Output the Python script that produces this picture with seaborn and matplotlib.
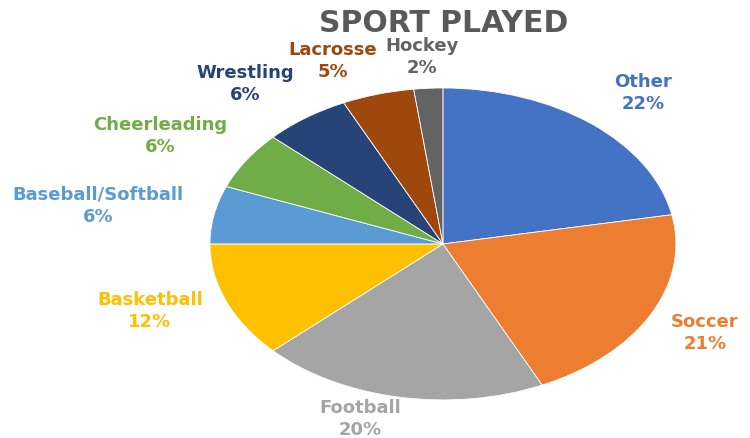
import matplotlib
matplotlib.use("Agg")
import matplotlib.pyplot as plt
import seaborn as sns

# Data (percent of respondents)
sports = ["Other", "Soccer", "Football", "Basketball", "Baseball/Softball",
          "Cheerleading", "Wrestling", "Lacrosse", "Hockey"]
shares = [22, 21, 20, 12, 6, 6, 6, 5, 2]

# Office-style palette, one colour per slice
colors = ["#4472C4", "#ED7D31", "#A5A5A5", "#FFC000", "#5B9BD5",
          "#70AD47", "#264478", "#9E480E", "#636363"]

# Label block centres (data units, pie radius = 1)
label_pos = [(0.858, 0.968), (1.124, -0.571), (-0.356, -1.122),
             (-1.258, -0.429), (-1.481, 0.244), (-1.215, 0.692),
             (-0.850, 1.026), (-0.472, 1.173), (-0.090, 1.199)]

sns.set_theme(style="white")
plt.rcParams['font.family'] = ['DejaVu Sans']

fig = plt.figure(figsize=(7.5, 4.38), dpi=100)
ax = fig.add_axes([0, 0, 1, 1])

ax.pie(shares, colors=colors, startangle=90, counterclock=False,
       wedgeprops=dict(edgecolor="white", linewidth=0.6))

# stretched (elliptical) pie like the reference
ax.set_aspect("auto")
ax.set_xlim(-1.901, 1.318)
ax.set_ylim(-1.244, 1.564)
ax.axis("off")

for name, val, col, (lx, ly) in zip(sports, shares, colors, label_pos):
    ax.text(lx, ly, f"{name}\n{val}%", color=col, ha="center", va="center",
            fontsize=13, fontweight="bold", linespacing=1.3)

fig.text(444 / 750, 1 - 23 / 438, "SPORT PLAYED", ha="center", va="center",
         fontsize=21.5, fontweight="bold", color="#595959")

fig.savefig("out.png", dpi=100)
plt.close(fig)
